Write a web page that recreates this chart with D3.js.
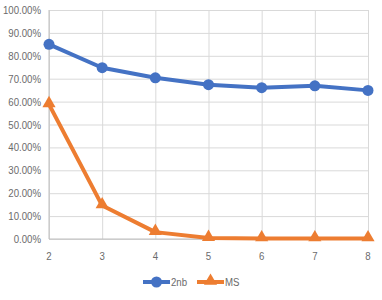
<!DOCTYPE html>
<html>
<head>
<meta charset="utf-8">
<script src="https://cdn.jsdelivr.net/npm/d3@7"></script>
<style>
  body { margin: 0; background: #fff; }
  text { font-family: "Liberation Sans", Arial, sans-serif; fill: #6b6b6b; }
  .grid line { stroke: #d9d9d9; stroke-width: 1; }
  .grid path { display: none; }
</style>
</head>
<body>
<div id="chart"></div>
<script>
// data
const categories = [2, 3, 4, 5, 6, 7, 8];
const series2nb = [85.0, 74.8, 70.4, 67.4, 66.1, 66.9, 64.9];
const seriesMS = [58.8, 14.6, 3.0, 0.4, 0.2, 0.2, 0.2];
const yTicks = [0, 10, 20, 30, 40, 50, 60, 70, 80, 90, 100];
const seriesNames = ["2nb", "MS"];
const colors = ["#4472C4", "#ED7D31"];

const width = 382, height = 300;
const margin = {top: 10, left: 49, right: 14, bottom: 61};
const squeeze = 0.84; // narrow font look

const svg = d3.select("#chart").append("svg")
    .attr("width", width)
    .attr("height", height);

const xScale = d3.scalePoint()
    .domain(categories)
    .range([margin.left, width - margin.right]);

const yScale = d3.scaleLinear()
    .domain([0, 100])
    .range([height - margin.bottom, margin.top]);

// horizontal gridlines
svg.append("g")
    .attr("class", "grid")
    .attr("transform", `translate(${margin.left},0)`)
    .call(d3.axisLeft(yScale)
        .tickValues(yTicks)
        .tickSize(-(width - margin.right - margin.left))
        .tickFormat(""));

// vertical gridlines
svg.append("g")
    .attr("class", "grid")
    .attr("transform", `translate(0,${margin.top})`)
    .call(d3.axisBottom(xScale)
        .tickSize(height - margin.bottom - margin.top)
        .tickFormat(""));

// axis lines
svg.append("line")
    .attr("x1", margin.left).attr("x2", width - margin.right)
    .attr("y1", yScale(0)).attr("y2", yScale(0))
    .attr("stroke", "#bfbfbf");
svg.append("line")
    .attr("x1", margin.left).attr("x2", margin.left)
    .attr("y1", yScale(0)).attr("y2", yScale(100))
    .attr("stroke", "#bfbfbf");

// y tick labels
svg.selectAll(".yLabel")
    .data(yTicks)
    .enter()
    .append("text")
    .attr("class", "yLabel")
    .attr("transform", d => `translate(${margin.left - 8},${yScale(d)}) scale(${squeeze},1)`)
    .attr("dy", "0.35em")
    .attr("text-anchor", "end")
    .attr("font-size", 11.5)
    .text(d => d.toFixed(2) + "%");

// x tick labels
svg.selectAll(".xLabel")
    .data(categories)
    .enter()
    .append("text")
    .attr("class", "xLabel")
    .attr("transform", d => `translate(${xScale(d)},${yScale(0) + 21}) scale(${squeeze},1)`)
    .attr("text-anchor", "middle")
    .attr("font-size", 11.5)
    .text(d => d);

const line = d3.line()
    .x((d, i) => xScale(categories[i]))
    .y(d => yScale(d));

const tri = d3.symbol().type(d3.symbolTriangle).size(75);

// MS series
svg.append("path")
    .datum(seriesMS)
    .attr("fill", "none")
    .attr("stroke", colors[1])
    .attr("stroke-width", 4)
    .attr("stroke-linejoin", "round")
    .attr("d", line);
svg.selectAll(".msPt")
    .data(seriesMS)
    .enter()
    .append("path")
    .attr("class", "msPt")
    .attr("d", tri)
    .attr("fill", colors[1])
    .attr("transform", (d, i) => `translate(${xScale(categories[i])},${yScale(d) - 1})`);

// 2nb series
svg.append("path")
    .datum(series2nb)
    .attr("fill", "none")
    .attr("stroke", colors[0])
    .attr("stroke-width", 4)
    .attr("stroke-linejoin", "round")
    .attr("d", line);
svg.selectAll(".nbPt")
    .data(series2nb)
    .enter()
    .append("circle")
    .attr("class", "nbPt")
    .attr("cx", (d, i) => xScale(categories[i]))
    .attr("cy", d => yScale(d))
    .attr("r", 5.5)
    .attr("fill", colors[0]);

// legend
const legend = svg.append("g").attr("transform", "translate(143,282)");
const legendX = [0, 54];
seriesNames.forEach((name, i) => {
    const g = legend.append("g").attr("transform", `translate(${legendX[i]},0)`);
    g.append("line")
        .attr("x1", 0).attr("x2", 27)
        .attr("stroke", colors[i]).attr("stroke-width", 4);
    if (i === 0) {
        g.append("circle").attr("cx", 13.5).attr("r", 5.5).attr("fill", colors[i]);
    } else {
        g.append("path").attr("d", tri).attr("fill", colors[i])
            .attr("transform", "translate(13.5,-1)");
    }
    g.append("text")
        .attr("transform", `translate(28,0) scale(${squeeze},1)`)
        .attr("dy", "0.35em")
        .attr("font-size", 11.5)
        .text(name);
});
</script>
</body>
</html>
